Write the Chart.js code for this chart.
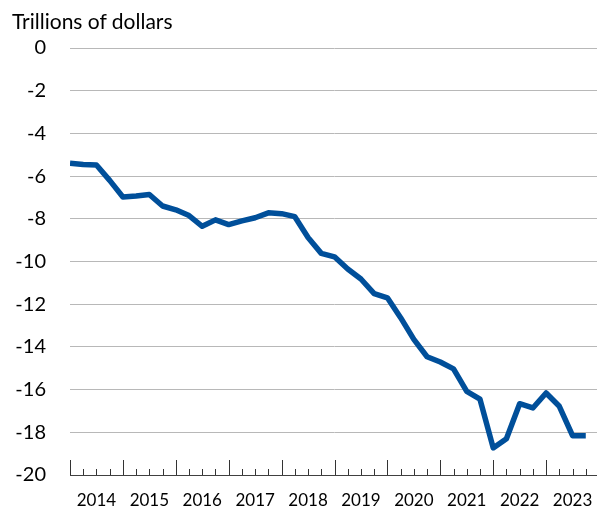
<!DOCTYPE html>
<html>
<head>
<meta charset="utf-8">
<script src="https://cdn.jsdelivr.net/npm/chart.js@4"></script>
<style>
  html, body { margin: 0; padding: 0; background: #fff; overflow: hidden; }
  #wrap { position: relative; width: 600px; height: 508px; }
  #unit { position: absolute; left: 12px; top: 10px; font-family: Lato, "Open Sans", sans-serif; font-size: 21px; line-height: 21px; color: #000; white-space: nowrap; }
  canvas { position: absolute; left: 0; top: 0; }
</style>
</head>
<body>
<div id="wrap">
  <canvas id="c" width="600" height="508"></canvas>
  <div id="unit">Trillions of dollars</div>
</div>
<script>
// Quarterly values, 2014 Q1 .. 2023 Q4 (trillions of dollars)
const years = ['2014','2015','2016','2017','2018','2019','2020','2021','2022','2023'];
const values = [
  -5.40, -5.46, -5.48, -6.20,
  -6.98, -6.93, -6.86, -7.40,
  -7.58, -7.85, -8.35, -8.05,
  -8.27, -8.10, -7.95, -7.72,
  -7.76, -7.90, -8.88, -9.62,
  -9.78, -10.35, -10.82, -11.50,
  -11.70, -12.63, -13.65, -14.46,
  -14.71, -15.03, -16.08, -16.45,
  -18.73, -18.30, -16.66, -16.86,
  -16.16, -16.78, -18.16, -18.16
];
const yTicks = [0, -2, -4, -6, -8, -10, -12, -14, -16, -18, -20];

const points = values.map((v, i) => ({ x: i, y: v }));

const tickMarks = {
  id: 'tickMarks',
  afterDatasetsDraw(chart) {
    const xs = chart.scales.x;
    const ctx = chart.ctx;
    const bottom = chart.chartArea.bottom;
    ctx.save();
    ctx.strokeStyle = '#333333';
    ctx.lineWidth = 1;
    for (let i = 0; i <= years.length * 4; i++) {
      const px = Math.round(xs.getPixelForValue(i)) + 0.5;
      const len = (i % 4 === 0) ? 15 : 6;
      ctx.beginPath();
      ctx.moveTo(px, bottom);
      ctx.lineTo(px, bottom - len);
      ctx.stroke();
    }
    ctx.restore();
  }
};

const yFont = { family: 'Lato, "Open Sans", sans-serif', size: 20 };
const xFont = { family: 'Lato, "Open Sans", sans-serif', size: 17 };

new Chart(document.getElementById('c'), {
  type: 'line',
  data: {
    datasets: [{
      data: points,
      borderColor: '#004f9a',
      borderWidth: 5.5,
      pointRadius: 0,
      tension: 0,
      borderJoinStyle: 'round',
      borderCapStyle: 'butt'
    }]
  },
  options: {
    responsive: false,
    animation: false,
    layout: { padding: { top: 48, right: 1, bottom: 0, left: 0 } },
    plugins: { legend: { display: false }, tooltip: { enabled: false }, title: { display: false } },
    scales: {
      x: {
        type: 'linear',
        min: 0,
        max: years.length * 4,
        afterBuildTicks: (s) => { s.ticks = years.map((y, i) => ({ value: i * 4 + 2 })); },
        afterFit: (s) => { s.height = 33; s.paddingLeft = 0; s.paddingRight = 0; s.paddingTop = 0; s.paddingBottom = 0; },
        grid: { display: false, drawTicks: false },
        border: { display: true, color: '#404040', width: 1 },
        ticks: {
          autoSkip: false,
          maxRotation: 0,
          padding: 15,
          color: '#000',
          font: xFont,
          callback: (v) => years[Math.round((v - 2) / 4)]
        }
      },
      y: {
        min: -20,
        max: 0,
        afterBuildTicks: (s) => { s.ticks = yTicks.map(v => ({ value: v })); },
        afterFit: (s) => { s.width = 70; s.paddingTop = 0; s.paddingBottom = 0; },
        grid: { color: '#b8b8b8', lineWidth: 1, drawTicks: false },
        border: { display: false },
        ticks: {
          padding: 24,
          color: '#000',
          font: yFont,
          callback: (v) => String(v)
        }
      }
    }
  },
  plugins: [tickMarks]
});
</script>
</body>
</html>
